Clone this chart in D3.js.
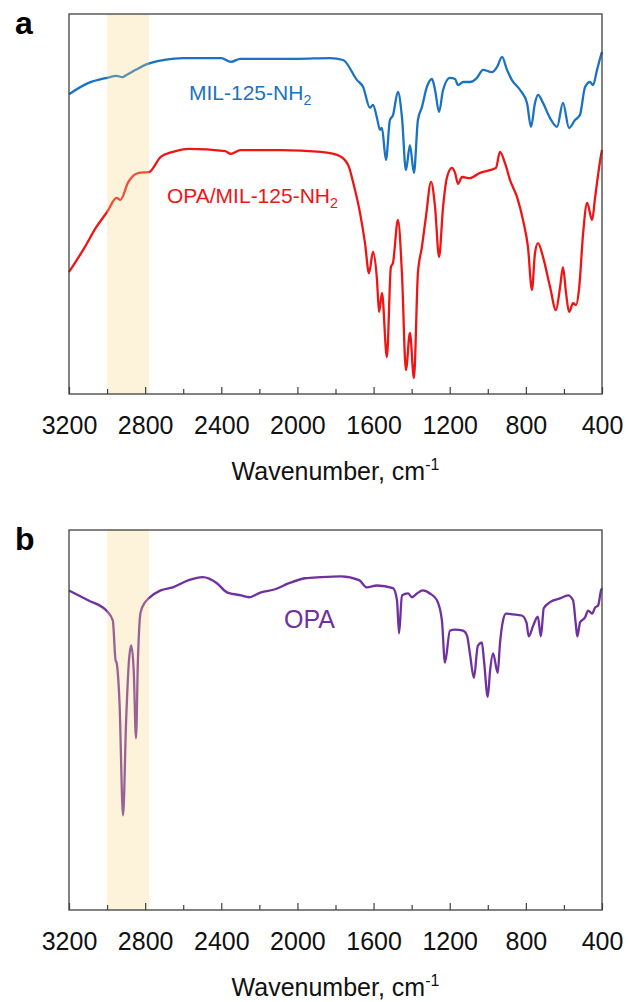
<!DOCTYPE html>
<meta charset="utf-8">
<style>
    * {
        margin: 0px;
    }
    body {
        background: #fff;
    }
    text {
        font-family: "Liberation Sans", Arial, sans-serif;
    }
    .frame {
        fill: none;
        stroke: #404040;
        stroke-width: 1.3px;
    }
    .axis path {
        display: none;
    }
    .axis line {
        stroke: #404040;
        stroke-width: 1.2px;
    }
    .axis text {
        font-size: 25px;
        fill: #111;
    }
    .spectrum {
        fill: none;
        stroke-width: 2.3px;
        stroke-linejoin: round;
    }
</style>
<svg width="629" height="1002"></svg>
<script src="https://d3js.org/d3.v7.min.js"></script>
<script>
    // wavenumber (cm-1), transmittance (a.u., 0-100 of panel height)
    var mil125 = [
        [3200, 78.9], [3100, 81.8], [3000, 83.2], [2950, 83.7], [2920, 83.4], [2900, 83.9],
        [2850, 85.3], [2800, 86.6], [2700, 87.9], [2600, 88.4], [2500, 88.4], [2400, 88.4],
        [2350, 87.4], [2300, 88.2], [2200, 88.2], [2000, 88.2], [1829, 88.4], [1760, 87.9],
        [1687, 82.6], [1655, 80.8], [1619, 75.3], [1603, 76.1], [1582, 72.6], [1566, 69.5],
        [1556, 70.0], [1535, 61.6], [1514, 72.1], [1498, 73.4], [1472, 79.5], [1451, 72.9],
        [1430, 58.9], [1409, 65.5], [1388, 58.2], [1367, 72.1], [1346, 75.5], [1320, 80.8],
        [1293, 82.9], [1277, 80.0], [1256, 74.2], [1235, 80.0], [1199, 83.2], [1172, 82.9],
        [1156, 81.3], [1130, 82.1], [1094, 82.1], [1057, 83.2], [1025, 85.3], [978, 84.7],
        [951, 86.1], [925, 88.7], [899, 85.3], [873, 82.6], [830, 80.0], [794, 76.6],
        [773, 70.3], [752, 76.6], [736, 78.7], [710, 76.6], [673, 72.6], [636, 70.3],
        [605, 76.6], [573, 70.0], [542, 72.1], [516, 73.4], [489, 80.8], [463, 82.1],
        [447, 81.3], [426, 85.3], [405, 89.2], [400, 90.0]
    ];

    var opaMil125 = [
        [3200, 32.1], [3120, 38.4], [3057, 43.9], [3000, 47.9], [2950, 51.6], [2930, 51.1],
        [2888, 55.8], [2833, 58.2], [2780, 58.4], [2718, 62.4], [2654, 63.7], [2570, 64.5],
        [2380, 63.9], [2350, 63.2], [2300, 64.2], [2086, 64.2], [1876, 63.7], [1829, 63.4],
        [1770, 62.4], [1729, 59.7], [1708, 55.8], [1671, 47.6], [1645, 39.7], [1624, 31.8],
        [1603, 37.4], [1582, 30.0], [1571, 21.6], [1556, 26.6], [1530, 9.7], [1509, 33.4],
        [1498, 34.5], [1472, 45.8], [1451, 31.8], [1430, 6.3], [1409, 16.1], [1388, 4.2],
        [1367, 31.8], [1346, 38.7], [1325, 46.6], [1298, 55.8], [1277, 49.2], [1256, 36.1],
        [1235, 49.2], [1214, 57.1], [1188, 59.5], [1172, 58.2], [1156, 55.3], [1135, 57.1],
        [1094, 56.8], [1041, 58.2], [988, 58.9], [957, 59.5], [936, 63.7], [910, 60.8],
        [883, 56.3], [846, 51.8], [815, 45.8], [789, 38.7], [768, 27.4], [752, 37.1],
        [736, 39.7], [710, 36.1], [673, 28.2], [642, 22.1], [620, 28.2], [605, 33.4],
        [589, 26.6], [573, 21.6], [552, 23.9], [536, 23.4], [520, 27.9], [499, 42.4],
        [478, 50.3], [452, 45.8], [436, 51.8], [405, 62.9], [400, 64.2]
    ];

    var opa = [
        [3200, 84.1], [3100, 81.5], [3000, 78.6], [2970, 76.2], [2955, 65.6], [2950, 65.1],
        [2935, 55.0], [2916, 24.9], [2900, 49.7], [2885, 65.6], [2873, 69.6], [2860, 63.0],
        [2848, 45.2], [2838, 65.6], [2824, 78.3], [2800, 81.0], [2782, 82.0], [2719, 84.1],
        [2655, 84.9], [2571, 86.8], [2497, 87.6], [2423, 86.0], [2370, 83.6], [2296, 82.8],
        [2254, 82.3], [2191, 83.6], [2117, 84.4], [2044, 86.0], [1960, 87.3], [1876, 87.6],
        [1771, 87.8], [1676, 86.8], [1635, 84.9], [1582, 85.4], [1498, 84.7], [1477, 81.5],
        [1466, 72.8], [1451, 82.8], [1419, 83.3], [1398, 82.3], [1372, 83.3], [1341, 84.1],
        [1304, 83.3], [1267, 81.5], [1241, 76.2], [1225, 65.1], [1199, 73.5], [1173, 73.8],
        [1130, 73.5], [1109, 72.2], [1094, 67.5], [1073, 61.1], [1052, 69.6], [1031, 70.4],
        [1020, 65.6], [1000, 56.1], [988, 63.0], [972, 67.5], [948, 62.4], [936, 70.1],
        [920, 76.2], [904, 78.0], [868, 77.8], [822, 77.5], [797, 75.7], [785, 72.0],
        [761, 74.9], [737, 77.2], [721, 72.0], [706, 79.4], [673, 81.0], [621, 82.0],
        [578, 82.8], [552, 81.5], [538, 75.4], [530, 72.0], [515, 75.7], [489, 77.0],
        [473, 78.8], [452, 78.0], [436, 79.6], [420, 80.2], [405, 84.1], [400, 84.7]
    ];

    var highlightBand = [3000, 2780];
    var tickValues = d3.range(3200, 399, -200);

    var svg = d3.select("svg");
    var left = 69, plotW = 533, plotH = 380;

    var x = d3.scaleLinear().domain([3200, 400]).range([0, plotW]);
    var y = d3.scaleLinear().domain([0, 100]).range([plotH, 0]);

    var line = d3.line()
        .x(function(d) { return x(d[0]); })
        .y(function(d) { return y(d[1]); })
        .curve(d3.curveMonotoneX);

    function panel(top, letter, series) {
        var g = svg.append("g").attr("transform", "translate(" + left + "," + top + ")");

        series.forEach(function(s) {
            g.append("path")
                .datum(s.data)
                .attr("class", "spectrum")
                .attr("stroke", s.color)
                .attr("d", line);

            var t = g.append("text")
                .attr("x", s.lx)
                .attr("y", s.ly)
                .attr("fill", s.color)
                .style("font-size", s.size + "px")
                .text(s.name);
            if (s.sub) {
                t.append("tspan")
                    .attr("dy", 5)
                    .style("font-size", (s.size * 0.68) + "px")
                    .text(s.sub);
            }
        });

        // shaded C-H stretch region, drawn over the lines
        g.append("rect")
            .attr("x", x(highlightBand[0]))
            .attr("y", 0)
            .attr("width", x(highlightBand[1]) - x(highlightBand[0]))
            .attr("height", plotH)
            .attr("fill", "#f8d784")
            .attr("fill-opacity", 0.3);

        g.append("g")
            .attr("class", "axis")
            .attr("transform", "translate(0," + plotH + ")")
            .call(d3.axisBottom(x)
                .tickValues(tickValues)
                .tickSizeInner(-7)
                .tickSizeOuter(0)
                .tickPadding(22)
                .tickFormat(function(d) { return d % 400 === 0 ? d : ""; }))
            .selectAll(".tick line")
            .attr("y2", function(d) { return d % 400 === 0 ? -7 : -5; });

        g.append("rect")
            .attr("class", "frame")
            .attr("width", plotW)
            .attr("height", plotH);

        var title = g.append("text")
            .attr("x", plotW / 2)
            .attr("y", plotH + 86)
            .attr("text-anchor", "middle")
            .style("font-size", "25px")
            .attr("fill", "#111")
            .text("Wavenumber, cm");
        title.append("tspan")
            .attr("dy", -10)
            .style("font-size", "16px")
            .text("-1");

        svg.append("text")
            .attr("x", 15)
            .attr("y", top + 20)
            .style("font-size", "32px")
            .style("font-weight", "bold")
            .attr("fill", "#000")
            .text(letter);
    }

    panel(14, "a", [
        { data: mil125, color: "#1a72c2", name: "MIL-125-NH", sub: "2", lx: 120, ly: 86, size: 21 },
        { data: opaMil125, color: "#ee1515", name: "OPA/MIL-125-NH", sub: "2", lx: 98, ly: 189, size: 21 }
    ]);

    panel(530, "b", [
        { data: opa, color: "#7030a0", name: "OPA", lx: 215, ly: 98, size: 25 }
    ]);
</script>
